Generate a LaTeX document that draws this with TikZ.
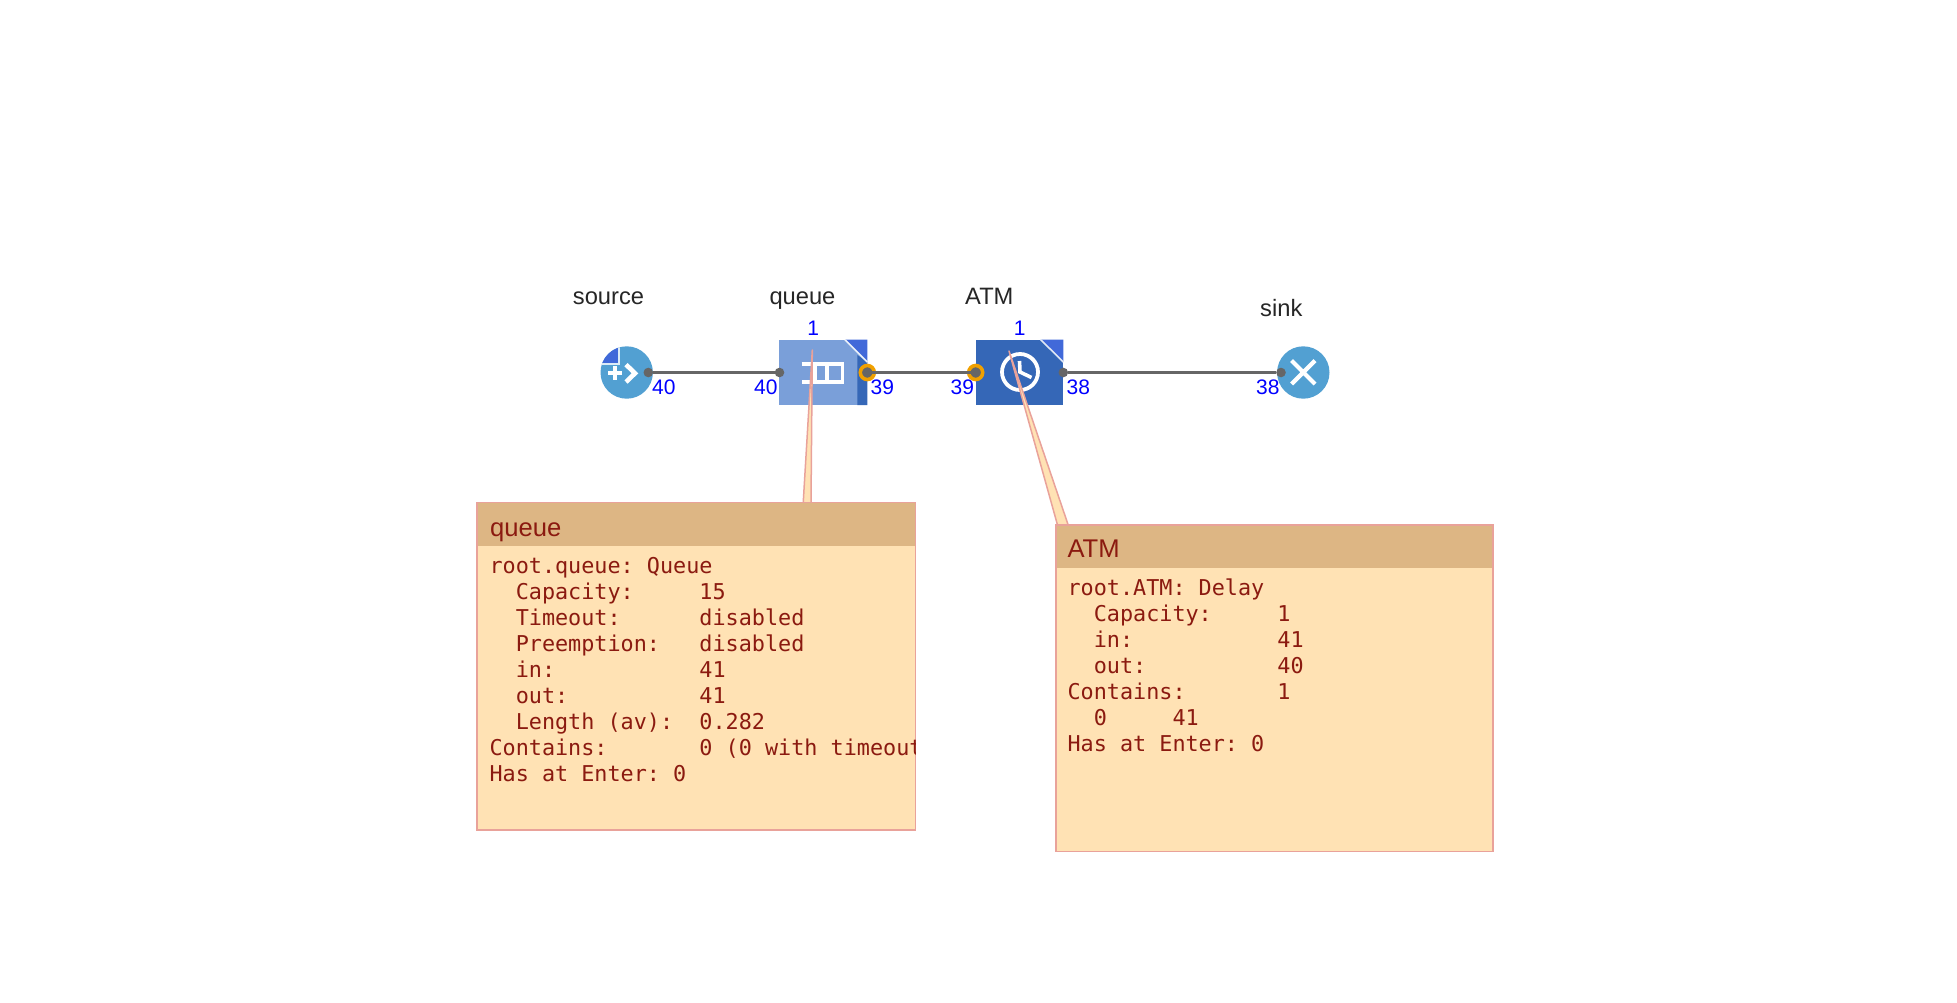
\documentclass[tikz,border=0pt]{standalone}
\usepackage{fontspec}
\setmainfont{Liberation Sans}
\newfontfamily\boxmono{DejaVu Sans Mono}
\definecolor{circblue}{HTML}{52A0D2}
\definecolor{qlight}{HTML}{7A9FD9}
\definecolor{qdark}{HTML}{3567B7}
\definecolor{corner}{HTML}{4169D9}
\definecolor{linegray}{HTML}{666666}
\definecolor{portring}{HTML}{F0A000}
\definecolor{tipfill}{HTML}{FFE2B4}
\definecolor{tiphead}{HTML}{DDB684}
\definecolor{tipline}{HTML}{E9A29A}
\definecolor{tiptext}{HTML}{8B1A10}
\newlength{\mw}
\newcommand{\kv}[2]{\makebox[16\mw][l]{#1}#2}
\newcommand{\ind}{\hspace*{2\mw}}
\tikzset{
  x=1pt,y=-1pt,
  circnode/.style={circle,fill=circblue,minimum size=52.4pt,inner sep=0},
  qnode/.style={rectangle,fill=qlight,minimum width=88pt,minimum height=65.4pt,inner sep=0},
  dnode/.style={rectangle,fill=qdark,minimum width=87.6pt,minimum height=65.4pt,inner sep=0},
  port/.style={circle,fill=linegray,minimum size=9.6pt,inner sep=0},
  ringport/.style={port,draw=portring,line width=3.6pt,minimum size=14pt},
  conn/.style={draw=linegray,line width=3.6pt},
  icon/.style={draw=white,line width=3.8pt},
  lbl/.style={anchor=base west,inner sep=0,font=\fontsize{23.7}{26}\selectfont,text=black!85},
  cnt/.style={anchor=base west,inner sep=0,font=\fontsize{21}{24}\selectfont,text=blue},
  tiptail/.style={fill=tipfill,draw=tipline,line width=1.5pt,line join=round},
  tipbox/.style={fill=tipfill,draw=tipline,line width=1.6pt},
  tiptitle/.style={anchor=base west,inner sep=0,font=\fontsize{25.6}{28}\selectfont,text=tiptext},
  tipbody/.style={anchor=north west,inner sep=0,align=left,text=tiptext,
    font=\frenchspacing\boxmono\fontsize{21.8}{26}\selectfont\setlength{\mw}{0.602em}},
}
\begin{document}
\begin{tikzpicture}
\useasboundingbox (0,0) rectangle (1957,1002);
% --- blocks
\node[circnode] (source) at (626.7,372.5) {};
\node[qnode] (queue) at (823.3,372.4) {};
\node[dnode] (atm) at (1019.5,372.4) {};
\node[circnode] (sink) at (1303.3,372.5) {};
% source decoration
\begin{scope}
  \clip (source) circle[radius=26.2];
  \fill[corner] (596,342) rectangle (618,363);
  \draw[white!80!circblue,line width=1.8pt] (619,342) -- (619,364) -- (596,364);
\end{scope}
\draw[icon,line width=3.8pt] (608,373.3) -- (622,373.3) (615,366.3) -- (615,380.3);
\draw[icon,line width=4.6pt] (626,364.6) -- (635,373.3) -- (626,382);
% queue decoration
\fill[qdark] (857.3,355) -- (867.3,362) -- (867.3,405.1) -- (857.3,405.1) -- cycle;
\fill[corner] (845,339.7) -- (867.3,339.7) -- (867.3,362) -- cycle;
\draw[white!85!qlight,line width=1.6pt] (845,339.7) -- (867.3,362);
\draw[icon,line width=3.4pt] (801.7,364) -- (842.7,364) -- (842.7,382) -- (801.7,382)
  (815,364) -- (815,382) (827,364) -- (827,382);
% ATM decoration
\fill[corner] (1040.7,339.7) -- (1063.3,339.7) -- (1063.3,362) -- cycle;
\draw[white!85!qdark,line width=1.6pt] (1040.7,339.7) -- (1063.3,362);
\draw[icon] (1020,372) circle[radius=18];
\draw[icon,line width=3.6pt] (1019.5,361) -- (1020,372) -- (1031.5,377.5);
% sink decoration
\draw[icon,line width=4.2pt] (1291.6,360.6) -- (1315,384) (1291.6,384) -- (1315,360.6);
% --- ports
\node[port] (srcout) at (648.3,372.5) {};
\node[port] (qin) at (779.5,372.5) {};
\node[ringport] (qout) at (867.3,372.5) {};
\node[ringport] (atmin) at (975.7,372.5) {};
\node[port] (atmout) at (1063.3,372.5) {};
\node[port] (sinkin) at (1281,372.5) {};
% --- connectors
\draw[conn] (srcout) -- (qin);
\draw[conn] (qout.center) -- (atmin.center);
\draw[conn] (atmout) -- (sinkin);
\node[port] at (qout.center) {};
\node[port] at (atmin.center) {};
% --- names
\node[lbl] (lsource) at (572.7,304.3) {source};
\node[lbl] (lqueue) at (769.3,304.3) {queue};
\node[lbl] (latm) at (965,304.3) {ATM};
\node[lbl] (lsink) at (1260,316.7) {sink};
% --- counters
\node[cnt,anchor=base] (c1) at (813.3,335.7) {1};
\node[cnt,anchor=base] (c2) at (1019.8,335.7) {1};
\node[cnt] (c3) at (652,394.3) {40};
\node[cnt] (c4) at (754,394.3) {40};
\node[cnt] (c5) at (870.4,394.3) {39};
\node[cnt] (c6) at (950.4,394.3) {39};
\node[cnt] (c7) at (1066.4,394.3) {38};
\node[cnt] (c8) at (1256,394.3) {38};
% --- tooltips
\coordinate (qtip) at (812.3,350);
\coordinate (atip) at (1009,351);
\draw[tiptail] (qtip) -- (803.2,503) -- (811,503) -- cycle;
\draw[tiptail] (atip) -- (1057.5,525) -- (1068.2,525) -- cycle;
% --- queue tooltip
\draw[tipbox] (477.2,502.6) rectangle (915.6,830);
\fill[tiphead] (478,503.4) rectangle (914.8,546);
\node[tiptitle] (tq) at (490,536) {queue};
\begin{scope}
  \clip (476.7,502) rectangle (915,830);
  \node[tipbody] (bq) at (489.3,557.2) {%
    root.queue: Queue\\
    \kv{\ind Capacity:}{15}\\
    \kv{\ind Timeout:}{disabled}\\
    \kv{\ind Preemption:}{disabled}\\
    \kv{\ind in:}{41}\\
    \kv{\ind out:}{41}\\
    \kv{\ind Length (av):}{0.282}\\
    \kv{Contains:}{0 (0 with timeout}\\
    Has at Enter: 0};
\end{scope}
% --- ATM tooltip
\draw[tipbox] (1055.8,524.8) rectangle (1493,851.5);
\fill[tiphead] (1056.6,525.6) rectangle (1492.2,567.7);
\node[tiptitle] (ta) at (1067.3,557) {ATM};
\node[tipbody] (ba) at (1067.3,578.2) {%
    root.ATM: Delay\\
    \kv{\ind Capacity:}{1}\\
    \kv{\ind in:}{41}\\
    \kv{\ind out:}{40}\\
    \kv{Contains:}{1}\\
    \ind 0\hspace*{5\mw}41\\
    Has at Enter: 0};
\end{tikzpicture}
\end{document}
